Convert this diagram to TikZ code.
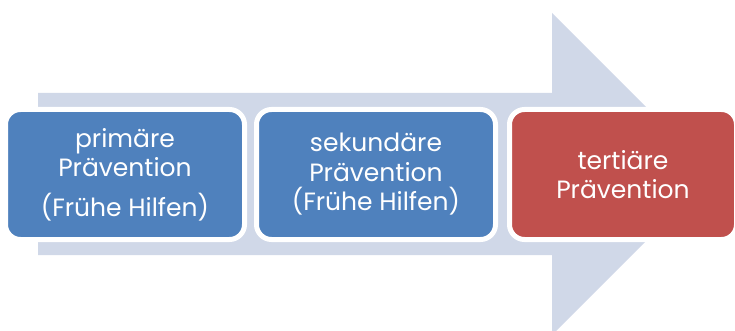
\documentclass[tikz,border=0pt]{standalone}
\usepackage{fontspec}
\setmainfont{Poppins}
\usetikzlibrary{positioning}
\definecolor{pfeilgrau}{HTML}{D0D8E8}
\definecolor{stufeblau}{HTML}{4F81BD}
\definecolor{stuferot}{HTML}{C0504D}
\tikzset{
  stufe/.style={draw=white, line width=5pt, rounded corners=15pt, minimum height=130pt,
    text=white, align=center, font=\fontsize{25}{29.5}\selectfont, inner sep=0pt}
}
\begin{document}
\begin{tikzpicture}[x=1pt, y=-1pt]

  \clip (0,0) rectangle (735,331);

  % Pfeil
  \fill[pfeilgrau] (38,93) -- (552,93) -- (552,13) -- (713,174) -- (552,335) -- (552,255) -- (38,255) -- cycle;

  % Stufen
  \node[stufe, fill=stufeblau, minimum width=239pt] (primaer) at (125,174.5) {primäre\\Prävention\\[10pt](Frühe Hilfen)};
  \node[stufe, fill=stufeblau, minimum width=239pt, right=7pt of primaer] (sekundaer) {sekundäre\\Prävention\\(Frühe Hilfen)};
  \node[stufe, fill=stuferot, minimum width=227pt, right=9pt of sekundaer] (tertiaer) {tertiäre\\Prävention};

\end{tikzpicture}
\end{document}
